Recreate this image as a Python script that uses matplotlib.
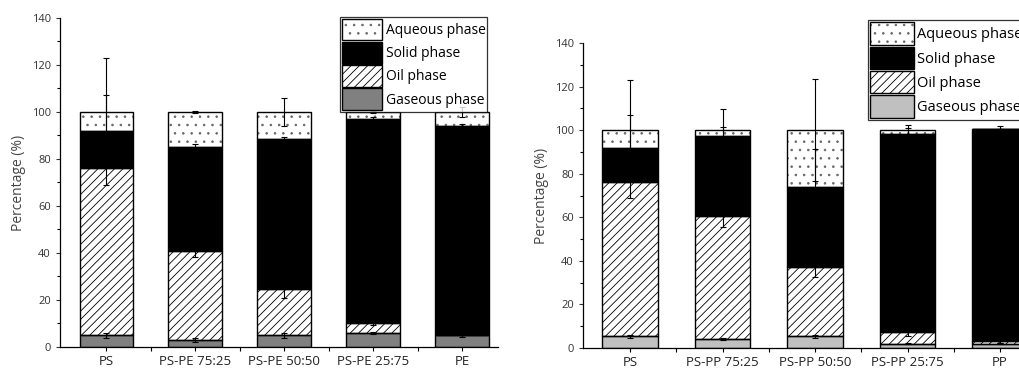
import numpy as np
import matplotlib
matplotlib.use("Agg")
import matplotlib.pyplot as plt
from matplotlib.patches import Patch

plt.rcParams["font.family"] = ["Open Sans", "DejaVu Sans"]
plt.rcParams["hatch.linewidth"] = 0.6

phases = ["Gaseous phase", "Oil phase", "Solid phase", "Aqueous phase"]

# left panel: PS / PE blends
pe_labels = ["PS", "PS-PE 75:25", "PS-PE 50:50", "PS-PE 25:75", "PE"]
pe_gas = [5, 3, 5, 6, 5]
pe_oil = [71, 38, 19.5, 4, 0]
pe_solid = [16, 44, 64, 87, 89]
pe_aq = [8, 15, 11.5, 3, 6]
pe_gas_err = [1, 1, 1, 0.5, 0.7]
pe_oil_err = [7, 2.5, 3.5, 0.5, 0]
pe_solid_err = [15, 1.5, 1, 1, 1]
pe_aq_err = [23, 0.5, 6, 0.5, 2]

# right panel: PS / PP blends
pp_labels = ["PS", "PS-PP 75:25", "PS-PP 50:50", "PS-PP 25:75", "PP"]
pp_gas = [5.3, 4.3, 5.3, 2, 2]
pp_oil = [70.7, 56.2, 31.7, 5.3, 1]
pp_solid = [16, 37, 37, 91, 97.5]
pp_aq = [8, 2.5, 26, 1.7, 0]
pp_gas_err = [0.8, 0.5, 0.7, 0.3, 0.3]
pp_oil_err = [7, 5, 4.5, 2, 0.5]
pp_solid_err = [15, 4, 17.5, 2.5, 1.5]
pp_aq_err = [23, 9.5, 23.3, 2.5, 0]


def stacked(ax, labels, series, errs, gas_color, xlim):
    x = np.arange(len(labels))
    bottom = np.zeros(len(labels))
    # hatch colour comes from edgecolor, so the black outline is drawn separately
    styles = [
        dict(color=gas_color, hatch=None, hc="black"),
        dict(color="white", hatch="////", hc="black"),
        dict(color="black", hatch=None, hc="black"),
        dict(color="white", hatch="..", hc="#666666"),
    ]
    handles = []
    for vals, err, st in zip(series, errs, styles):
        vals = np.array(vals, dtype=float)
        ax.bar(x, vals, 0.6, bottom=bottom, color=st["color"], hatch=st["hatch"],
               edgecolor=st["hc"], linewidth=0, zorder=2)
        ax.bar(x, vals, 0.6, bottom=bottom, fill=False, edgecolor="black",
               linewidth=1.0, zorder=2.5)
        top = bottom + vals
        ax.errorbar(x, top, yerr=err, fmt="none", ecolor="black", elinewidth=0.8,
                    capsize=2.5, capthick=0.8, zorder=3)
        bottom = top
        swatch = Patch(facecolor=st["color"], hatch=st["hatch"], edgecolor=st["hc"], linewidth=0)
        handles.append((swatch, Patch(fill=False, edgecolor="black", linewidth=1.0)))
    ax.set_xlim(*xlim)
    ax.set_ylim(0, 140)
    ax.set_xticks(x)
    ax.set_xticklabels(labels, fontsize=9.5, color="#222222")
    ax.set_xticks(x[:-1] + 0.5, minor=True)
    ax.set_yticks(np.arange(0, 141, 20))
    ax.set_yticks(np.arange(0, 141, 10), minor=True)
    ax.tick_params(axis="y", labelsize=8, colors="#333333", length=3, width=0.8)
    ax.tick_params(axis="y", which="minor", length=2, width=0.8)
    ax.tick_params(axis="x", length=3, width=0.8, pad=3)
    ax.tick_params(axis="x", which="minor", length=3, width=0.8)
    ax.set_ylabel("Percentage (%)", fontsize=10, color="#444444")
    for s in ["top", "right"]:
        ax.spines[s].set_visible(False)
    for s in ["left", "bottom"]:
        ax.spines[s].set_linewidth(0.9)
    return handles


fig = plt.figure(figsize=(10.2, 3.71), dpi=100)

ax1 = fig.add_axes([0.0588, 0.0647, 0.429, 0.887])
h1 = stacked(ax1, pe_labels, [pe_gas, pe_oil, pe_solid, pe_aq],
             [pe_gas_err, pe_oil_err, pe_solid_err, pe_aq_err], "#808080", (-0.52, 4.40))
leg1 = ax1.legend(h1[::-1], phases[::-1], loc="upper right", bbox_to_anchor=(0.977, 1.003),
                  fontsize=10, frameon=True, fancybox=False, edgecolor="black",
                  handlelength=2.9, handleheight=2.0, labelspacing=0.12, handletextpad=0.25,
                  borderpad=0.15, borderaxespad=0)
leg1.get_frame().set_linewidth(0.9)

# right panel runs past the figure edge, as in the original
ax2 = fig.add_axes([0.5716, 0.062, 0.446, 0.822])
h2 = stacked(ax2, pp_labels, [pp_gas, pp_oil, pp_solid, pp_aq],
             [pp_gas_err, pp_oil_err, pp_solid_err, pp_aq_err], "#c0c0c0", (-0.51, 4.41))
leg2 = ax2.legend(h2[::-1], phases[::-1], loc="upper left", bbox_to_anchor=(0.626, 1.075),
                  fontsize=10.5, frameon=True, fancybox=False, edgecolor="black",
                  handlelength=3.0, handleheight=2.0, labelspacing=0.12, handletextpad=0.25,
                  borderpad=0.15, borderaxespad=0)
leg2.get_frame().set_linewidth(0.9)

fig.savefig("out.png", dpi=100)
